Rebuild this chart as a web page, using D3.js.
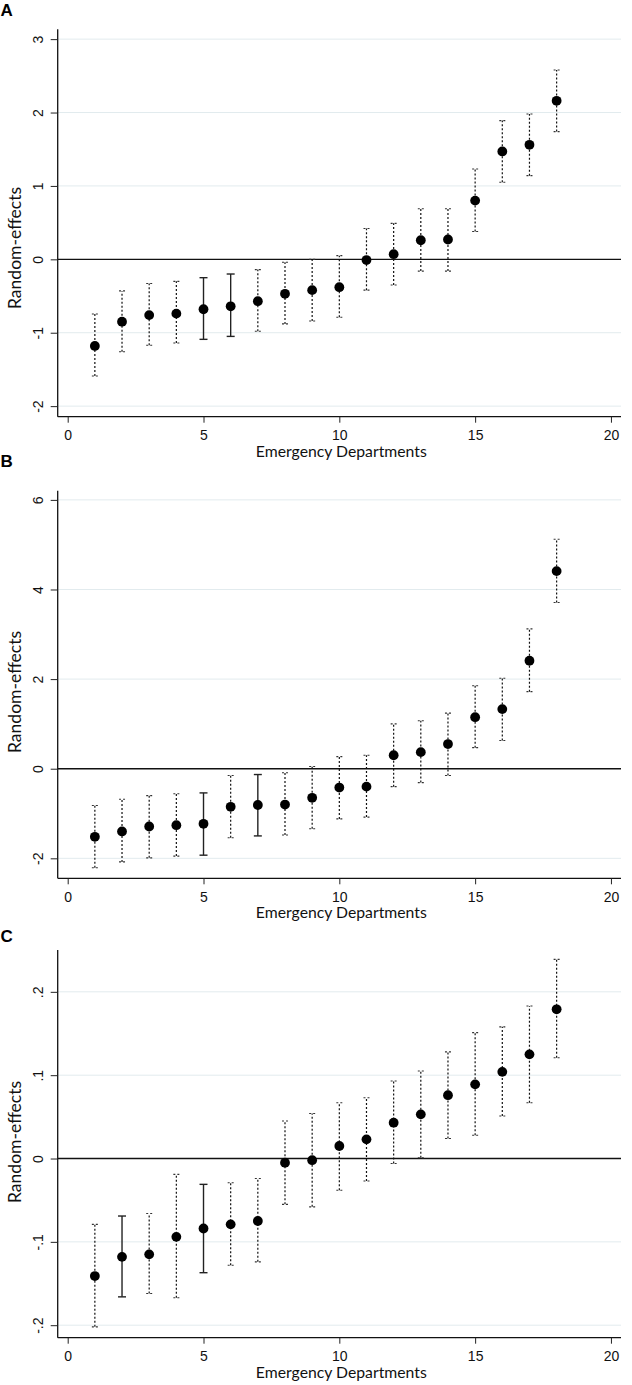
<!DOCTYPE html>
<html>
<head>
<meta charset="utf-8">
<script src="https://cdn.jsdelivr.net/npm/d3@7"></script>
<style>
  html, body { margin: 0; padding: 0; background: #fff; }
  svg { display: block; }
</style>
</head>
<body>
<svg id="chart" width="632" height="1385"></svg>
<script>
// ---------------- data ----------------
const departments = [1,2,3,4,5,6,7,8,9,10,11,12,13,14,15,16,17,18];
const xTicks = [0, 5, 10, 15, 20];

const panelLabels = ["A", "B", "C"];
const xTitle = "Emergency Departments";
const yTitle = "Random-effects";

const aEstimate = [-1.18,-0.85,-0.76,-0.74,-0.68,-0.64,-0.57,-0.47,-0.42,-0.38,-0.01,0.07,0.26,0.27,0.80,1.47,1.56,2.16];
const aLower    = [-1.59,-1.26,-1.17,-1.14,-1.09,-1.05,-0.98,-0.88,-0.84,-0.79,-0.42,-0.35,-0.16,-0.16,0.38,1.05,1.14,1.74];
const aUpper    = [-0.745,-0.43,-0.33,-0.30,-0.25,-0.20,-0.14,-0.04,0.00,0.05,0.42,0.49,0.69,0.69,1.23,1.89,1.98,2.58];
const aSolid    = [5, 6];
const aYTicks   = [-2, -1, 0, 1, 2, 3];
const aYTickLabels = ["-2", "-1", "0", "1", "2", "3"];
const aYDomain  = [-2.144, 3.134];

const bEstimate = [-1.52,-1.40,-1.29,-1.26,-1.23,-0.85,-0.81,-0.80,-0.65,-0.42,-0.40,0.30,0.37,0.55,1.15,1.33,2.41,4.41];
const bLower    = [-2.21,-2.08,-1.99,-1.95,-1.93,-1.54,-1.50,-1.48,-1.34,-1.12,-1.08,-0.40,-0.31,-0.15,0.47,0.63,1.72,3.71];
const bUpper    = [-0.82,-0.68,-0.60,-0.56,-0.54,-0.15,-0.13,-0.09,0.05,0.27,0.30,1.00,1.07,1.24,1.85,2.02,3.12,5.12];
const bSolid    = [5, 7];
const bYTicks   = [-2, 0, 2, 4, 6];
const bYTickLabels = ["-2", "0", "2", "4", "6"];
const bYDomain  = [-2.446, 6.205];

const cEstimate = [-0.141,-0.118,-0.115,-0.094,-0.084,-0.079,-0.075,-0.005,-0.002,0.015,0.023,0.043,0.053,0.076,0.089,0.104,0.125,0.179];
const cLower    = [-0.202,-0.166,-0.162,-0.167,-0.137,-0.128,-0.124,-0.055,-0.058,-0.038,-0.027,-0.006,0.001,0.024,0.028,0.051,0.067,0.121];
const cUpper    = [-0.079,-0.069,-0.066,-0.019,-0.031,-0.029,-0.024,0.045,0.054,0.067,0.073,0.093,0.105,0.128,0.151,0.158,0.183,0.239];
const cSolid    = [2, 5];
const cYTicks   = [-0.2, -0.1, 0, 0.1, 0.2];
const cYTickLabels = ["-.2", "-.1", "0", ".1", ".2"];
const cYDomain  = [-0.215, 0.2502];

const xDomain = [-0.368, 20.37];

// ---------------- layout ----------------
const left = 57.7, right = 621;
const panelTop    = [29.3, 490.7, 950];
const panelBottom = [416.7, 878.3, 1337.7];
const letterBaseline = [16, 467, 942];
const yTitleCenter = [248, 692, 1142];

const panels = [
  { est: aEstimate, lo: aLower, hi: aUpper, solid: aSolid, ticks: aYTicks, tickLabels: aYTickLabels, domain: aYDomain },
  { est: bEstimate, lo: bLower, hi: bUpper, solid: bSolid, ticks: bYTicks, tickLabels: bYTickLabels, domain: bYDomain },
  { est: cEstimate, lo: cLower, hi: cUpper, solid: cSolid, ticks: cYTicks, tickLabels: cYTickLabels, domain: cYDomain }
];

const svg = d3.select("#chart");
const x = d3.scaleLinear().domain(xDomain).range([left, right]);

const tickFont = "'Liberation Sans', Arial, sans-serif";
const titleFont = "Lato, 'Open Sans', sans-serif";

function fitText(sel, target) {
  const node = sel.node();
  const len = node.getComputedTextLength();
  const fs = parseFloat(sel.attr("font-size"));
  if (len > 0) sel.attr("font-size", (fs * target / len).toFixed(2));
}

panels.forEach((p, i) => {
  const top = panelTop[i], bottom = panelBottom[i];
  const y = d3.scaleLinear().domain(p.domain).range([bottom, top]);
  const g = svg.append("g");

  // gridlines
  g.append("g").selectAll("line")
    .data(p.ticks.filter(t => t !== 0))
    .join("line")
    .attr("x1", left).attr("x2", right)
    .attr("y1", d => y(d)).attr("y2", d => y(d))
    .attr("stroke", "#e2ebee").attr("stroke-width", 1);

  // zero line
  g.append("line")
    .attr("x1", left).attr("x2", right)
    .attr("y1", y(0)).attr("y2", y(0))
    .attr("stroke", "#111").attr("stroke-width", 1.4);

  // y axis
  const yAxis = d3.axisLeft(y).tickValues(p.ticks)
    .tickFormat((d, k) => p.tickLabels[k]).tickSize(7).tickSizeOuter(0);
  const ya = g.append("g").attr("transform", `translate(${left},0)`).call(yAxis);
  ya.select(".domain").attr("d", `M0,${top}V${bottom}`).attr("stroke", "#111").attr("stroke-width", 1.3);
  ya.selectAll(".tick line").attr("stroke", "#222").attr("stroke-width", 1);
  ya.selectAll(".tick text")
    .attr("x", null).attr("dy", null)
    .attr("transform", "translate(-15,0) rotate(-90)")
    .attr("text-anchor", "middle")
    .attr("font-family", tickFont).attr("font-size", 14).attr("fill", "#111");

  // x axis
  const xAxis = d3.axisBottom(x).tickValues(xTicks).tickSize(6).tickSizeOuter(0);
  const xa = g.append("g").attr("transform", `translate(0,${bottom})`).call(xAxis);
  xa.select(".domain").attr("d", `M${left},0H${right}`).attr("stroke", "#111").attr("stroke-width", 1.3);
  xa.selectAll(".tick line").attr("stroke", "#222").attr("stroke-width", 1);
  xa.selectAll(".tick text")
    .attr("y", 23.5).attr("dy", null)
    .attr("font-family", tickFont).attr("font-size", 14).attr("fill", "#111");

  // error bars
  const rows = departments.map((d, k) => ({ d, est: p.est[k], lo: p.lo[k], hi: p.hi[k], solid: p.solid.includes(d) }));
  const bars = g.append("g").selectAll("g").data(rows).join("g");
  bars.append("line")
    .attr("x1", r => x(r.d)).attr("x2", r => x(r.d))
    .attr("y1", r => y(r.lo)).attr("y2", r => y(r.hi))
    .attr("stroke", r => r.solid ? "#222" : "#111")
    .attr("stroke-width", r => r.solid ? 1.4 : 1.2)
    .attr("stroke-dasharray", r => r.solid ? null : "2,2");
  ["lo", "hi"].forEach(key => {
    bars.append("line")
      .attr("x1", r => x(r.d) - (r.solid ? 4 : 3))
      .attr("x2", r => x(r.d) + (r.solid ? 4 : 3))
      .attr("y1", r => y(r[key])).attr("y2", r => y(r[key]))
      .attr("stroke", r => r.solid ? "#222" : "#333")
      .attr("stroke-width", r => r.solid ? 1.4 : 1.1)
      .attr("stroke-dasharray", r => r.solid ? null : "2,2");
  });

  // points
  g.append("g").selectAll("circle").data(rows).join("circle")
    .attr("cx", r => x(r.d)).attr("cy", r => y(r.est))
    .attr("r", 4.9).attr("fill", "#000");

  // x title
  const xt = g.append("text")
    .attr("x", x(10) + 2).attr("y", bottom + 40)
    .attr("text-anchor", "middle")
    .attr("font-family", titleFont).attr("font-size", 16).attr("fill", "#111")
    .text(xTitle);
  fitText(xt, 171);

  // y title
  const yt = g.append("text")
    .attr("transform", `translate(20.5,${yTitleCenter[i]}) rotate(-90)`)
    .attr("text-anchor", "middle")
    .attr("font-family", titleFont).attr("font-size", 16).attr("fill", "#111")
    .text(yTitle);
  fitText(yt, 122);

  // panel letter
  g.append("text")
    .attr("x", 0.5).attr("y", letterBaseline[i])
    .attr("font-family", "'Liberation Sans', Arial, sans-serif")
    .attr("font-weight", "bold").attr("font-size", 17).attr("fill", "#000")
    .text(panelLabels[i]);
});
</script>
</body>
</html>
